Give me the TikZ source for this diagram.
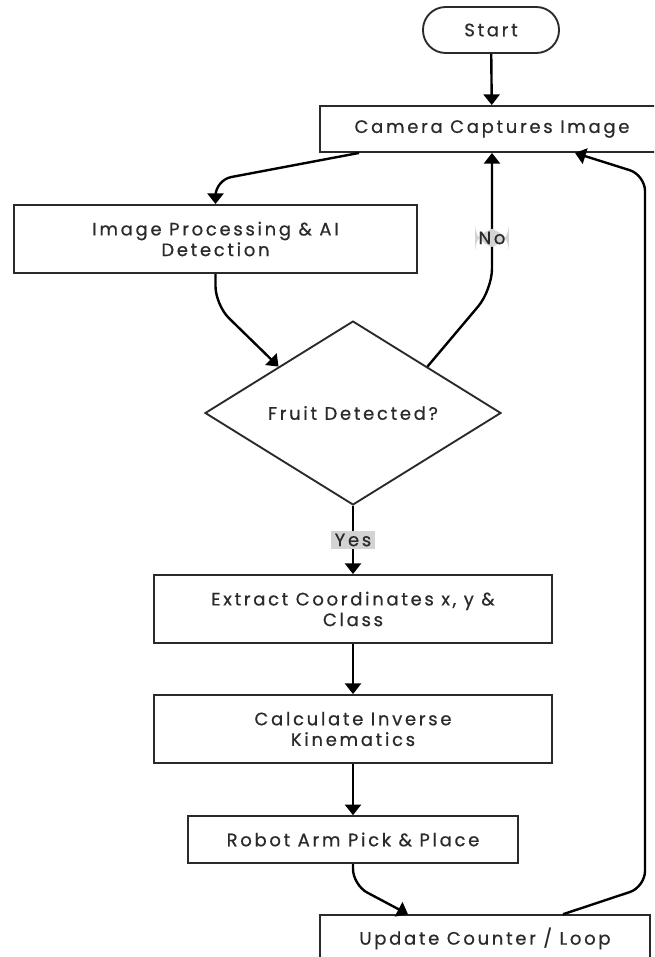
\documentclass[tikz,border=0pt]{standalone}
\usepackage{fontspec}
\setmainfont{Poppins}[LetterSpace=15,FakeBold=0.6]
\usepackage{tikz}
\usetikzlibrary{shapes.geometric,arrows.meta}

\definecolor{inkgray}{HTML}{2A2A2A}
\definecolor{tagfill}{HTML}{D3D3D3}

\tikzset{
  box/.style={draw=inkgray, line width=1.4pt, fill=white, align=center,
    inner sep=2pt, text=inkgray},
  flow/.style={line width=1.8pt, draw=black,
    -{Triangle[length=8pt,width=12pt]}},
  tag/.style={fill=tagfill, inner xsep=2.5pt, inner ysep=2pt, text=inkgray}
}

\begin{document}
\begin{tikzpicture}[x=0.75pt,y=-0.75pt,font=\fontsize{13.5}{15.5}\selectfont]
        \useasboundingbox (0,0) rectangle (654,957);
        \clip (0,0) rectangle (654,957);
        \node[box, rounded corners=17pt, minimum width=102pt,
        minimum height=34.5pt] (start) at (491,30) {Start};
        \foreach \n/\x/\l/\w/\h in{
        cam/{(492,129)}/{Camera Captures Image}/258pt/34.5pt,
        proc/{(215.5,239)}/{Image Processing \& AI\\Detection}/302pt/51pt,
        ext/{(353,609)}/{Extract Coordinates x, y \&\\Class}/299pt/51pt,
        calc/{(353,729)}/{Calculate Inverse\\Kinematics}/299pt/51pt,
        robot/{(353,839.5)}/{Robot Arm Pick \& Place}/247.5pt/35pt,
        upd/{(485,938.5)}/{Update Counter / Loop}/247.5pt/35pt
        }
        {
            \node[box, minimum width=\w, minimum height=\h] (\n) at \x {\l};
        }
        \node[box, diamond, inner sep=0pt, minimum width=222pt,
        minimum height=130.5pt] (dec) at (353,413) {Fruit Detected?};
        \draw[flow] (start) -- (cam);
        \draw[flow, rounded corners=12pt] ([shift={(40,0)}]cam.south west)
            -- (215.5,180) -- (proc.north);
        \draw[flow, rounded corners=14pt] (proc.south) -- (215.5,305)
            -- (dec.north west);
        \draw[flow, rounded corners=16pt] (dec.north east) -- (492,290)
            -- node[tag, pos=0.38] {No} (cam.south);
        \draw[flow] (dec.south) -- node[tag] {Yes} (ext.north);
        \draw[flow] (ext) -- (calc);
        \draw[flow] (calc) -- (robot);
        \draw[flow, rounded corners=12pt] (robot.south) -- (353,885)
            -- ([shift={(-77,0)}]upd.north);
        \draw[flow, rounded corners=12pt] ([shift={(78,0)}]upd.north)
            -- (645,887) -- (645,175) -- ([shift={(83,0)}]cam.south);
\end{tikzpicture}
\end{document}
